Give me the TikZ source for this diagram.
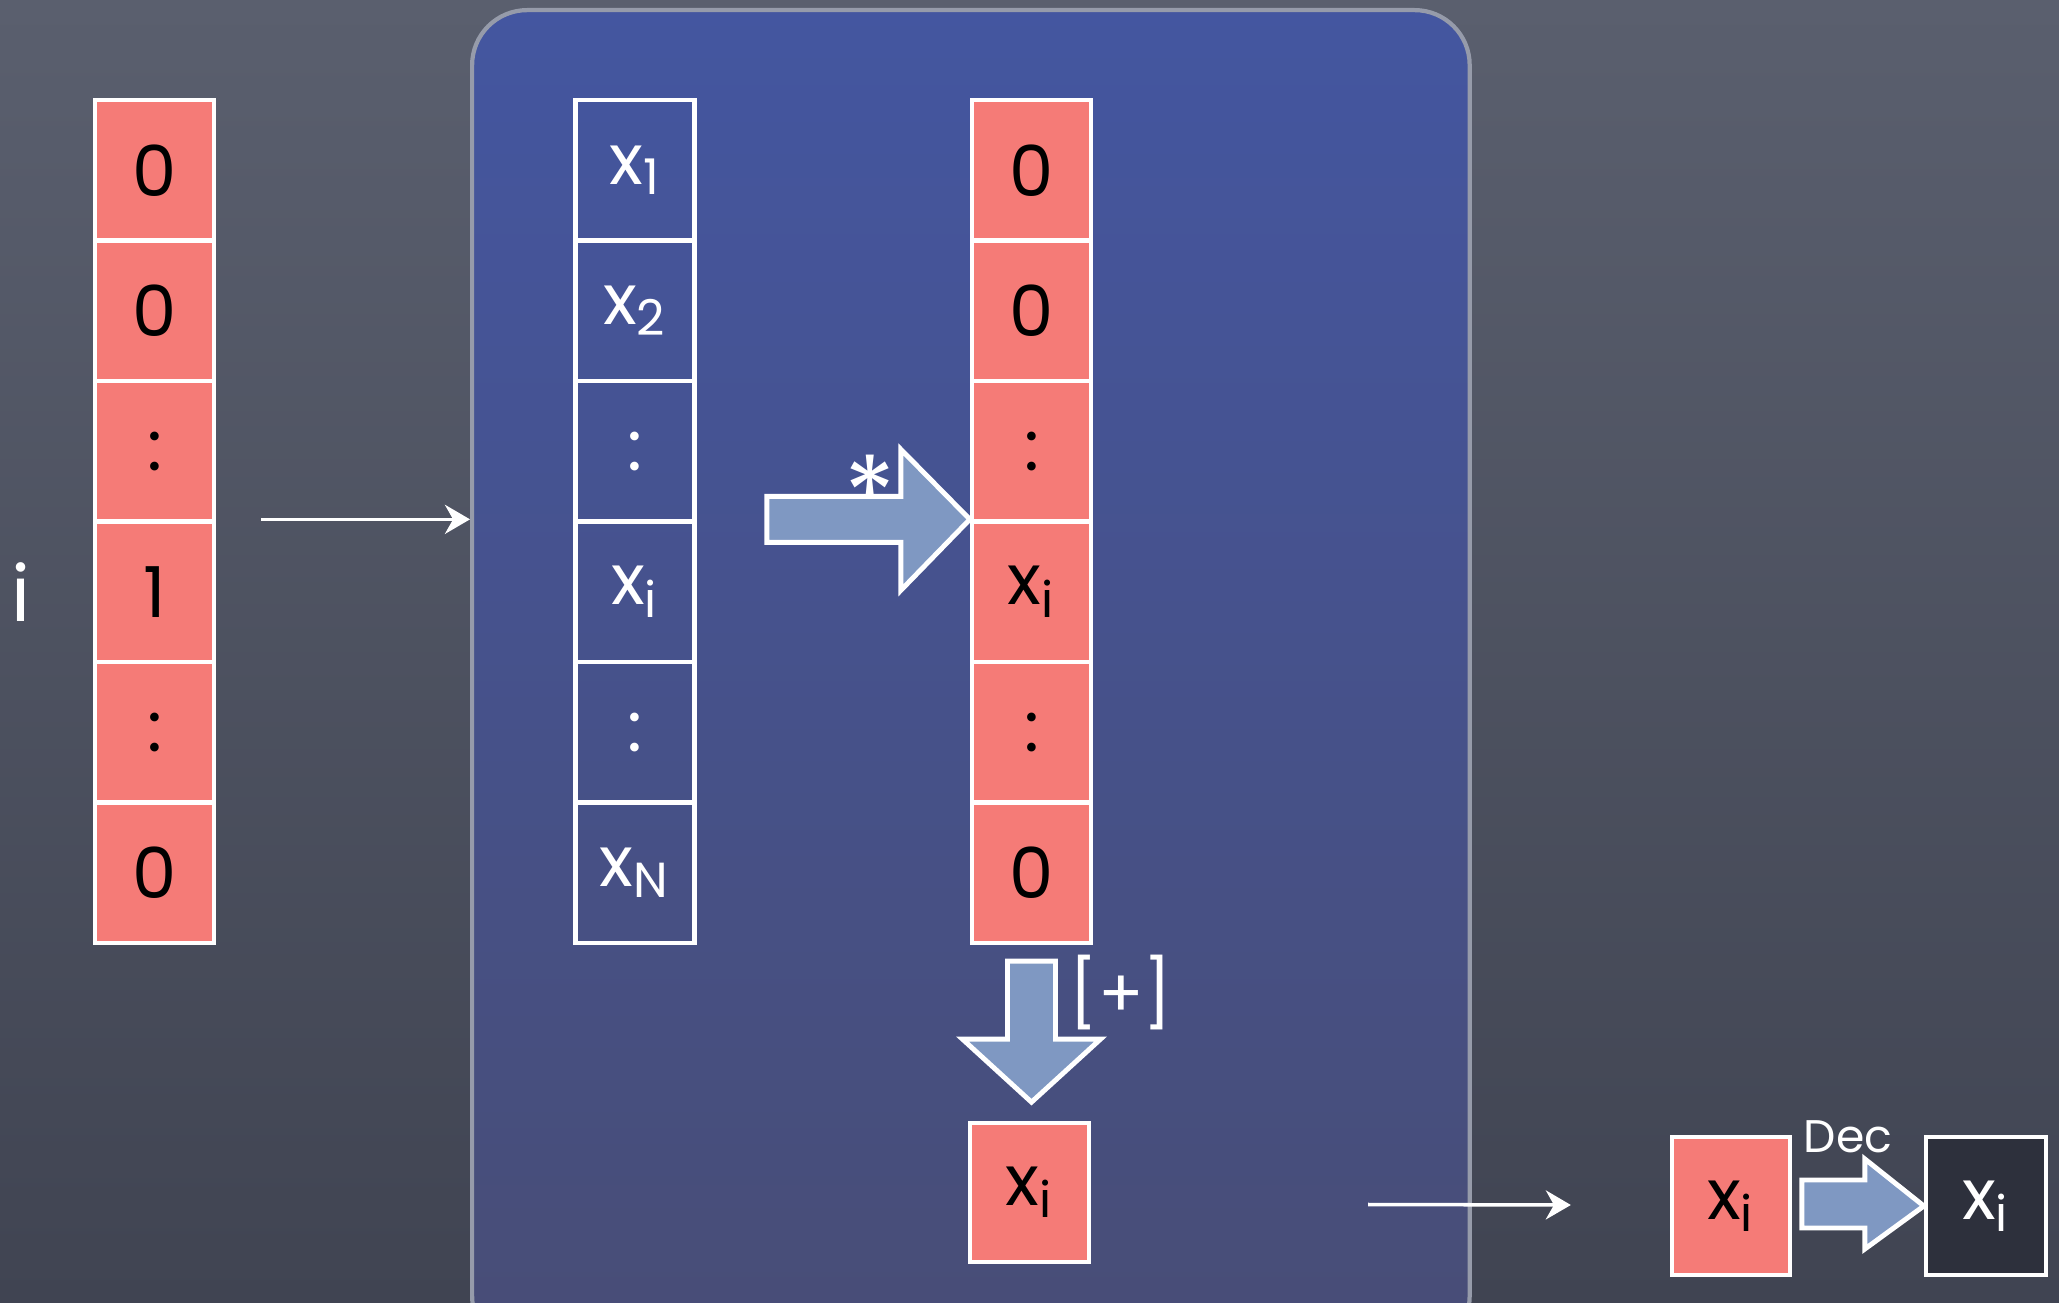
\documentclass[tikz,border=0pt]{standalone}
\usepackage{fontspec}
\setmainfont{Poppins}
\usetikzlibrary{positioning,arrows.meta,calc}
\definecolor{boardtop}{RGB}{90,95,110}
\definecolor{boardbot}{RGB}{64,68,82}
\definecolor{paneltop}{RGB}{68,86,160}
\definecolor{panelbot}{RGB}{72,77,118}
\definecolor{cellred}{RGB}{245,123,119}
\definecolor{arrowblue}{RGB}{127,152,194}
\definecolor{darkfill}{RGB}{45,48,60}
\definecolor{rimgray}{RGB}{150,155,170}

\begin{document}
\begin{tikzpicture}[x=0.01cm, y=-0.01cm, cellbase/.style={draw=white, line width=1.2pt, minimum width=1.19cm, minimum height=1.405cm, inner sep=0pt, font=\fontsize{20}{24}\selectfont}, redcell/.style={cellbase, fill=cellred, text=black}, bluecell/.style={cellbase, text=white}, darkcell/.style={cellbase, fill=darkfill, text=white}, blockarrow/.style={draw=white, line width=1.4pt, fill=arrowblue}, conn/.style={draw=white, line width=1pt, -{Stealth[length=2.5mm, width=2.9mm]}}, note/.style={text=white, inner sep=0pt}]
\clip (0,0) rectangle (2059,1303);
\shade[top color=boardtop, bottom color=boardbot] (0,0) rectangle (2059,1303);
\node[draw=rimgray, line width=1.2pt, rounded corners=0.55cm, top color=paneltop, bottom color=panelbot, minimum width=9.97cm, minimum height=13.4cm, anchor=north west] (panel) at (470,8) {};
% one-hot selector, the vector, the product
\foreach \val [count=\k] in {0,0,:,1,:,0}
  \node[redcell] (l\k) at (154.5, {100+140.5*(\k-0.5)}) {\val};
\foreach \val [count=\k] in {x\textsubscript{1},x\textsubscript{2},:,x\textsubscript{i},:,x\textsubscript{N}}
  \node[bluecell] (m\k) at (635, {100+140.5*(\k-0.5)}) {\val};
\foreach \val [count=\k] in {0,0,:,x\textsubscript{i},:,0}
  \node[redcell] (r\k) at (1031.5, {100+140.5*(\k-0.5)}) {\val};
\node[note, font=\fontsize{22}{26}\selectfont, left=0.62cm of l4] (idx) {i};
\node[redcell, minimum height=1.39cm] (sum) at (1029.5,1192.5) {x\textsubscript{i}};
\node[redcell, minimum width=1.18cm, minimum height=1.38cm] (enc) at (1731,1206) {x\textsubscript{i}};
\node[darkcell, minimum width=1.2cm, minimum height=1.38cm] (plain) at (1986,1206) {x\textsubscript{i}};
% block arrows
\draw[blockarrow] (r4.north west) -- ++(-69,-70) -- ++(0,47) -- ++(-134,0) -- ++(0,46) -- ++(134,0) -- ++(0,48) -- cycle;
\draw[blockarrow] ($(r6.south)+(-24,16)$) -- ++(48,0) -- ++(0,78) -- ++(45,0) -- ++(-69,63) -- ++(-69,-63) -- ++(45,0) -- cycle;
\draw[blockarrow] (plain.west) -- ++(-59,-47) -- ++(0,21) -- ++(-63,0) -- ++(0,48) -- ++(63,0) -- ++(0,21) -- cycle;
\node[note, font=\fontsize{30}{30}\selectfont] (star) at (870,494) {*};
\node[note, font=\fontsize{19}{22}\selectfont] (plus) at (1121,993) {[+]};
\node[note, font=\fontsize{13}{16}\selectfont] (dec) at (1848,1137) {Dec};
% connectors
\draw[conn] ($(l4.north east)+(45,0)$) -- (l4.north east -| panel.west);
\draw[conn] ($(sum.east)+(277,12)$) -- ($(enc.west)+(-99,-1)$);
\end{tikzpicture}
\end{document}
